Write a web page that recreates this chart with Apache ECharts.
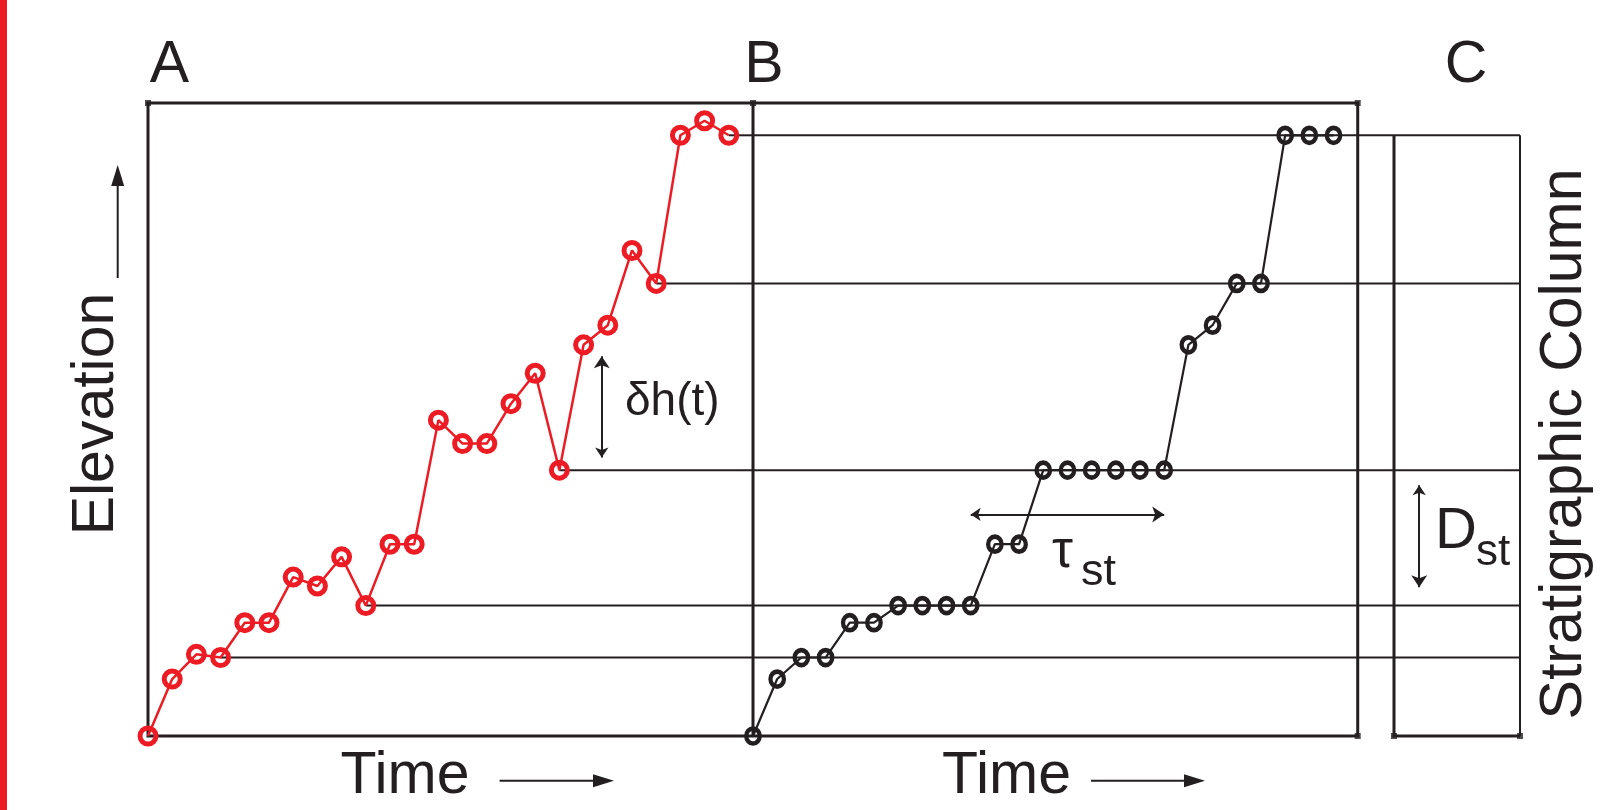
<!DOCTYPE html>
<html>
<head>
<meta charset="utf-8">
<title>Elevation, preserved record and stratigraphic column</title>
<script src="https://cdn.jsdelivr.net/npm/echarts@6.0.0/dist/echarts.min.js"></script>
<style>
  html, body { margin: 0; padding: 0; background: #ffffff; }
  #chart { width: 1602px; height: 810px; }
</style>
</head>
<body>
<div id="chart"></div>
<script>
// time steps, shared by panels A and B
const steps = [0, 1, 2, 3, 4, 5, 6, 7, 8, 9, 10, 11, 12, 13, 14, 15, 16, 17, 18, 19, 20, 21, 22, 23, 24];
// surface elevation at each step (panel A), 0 = base of box, 100 = top of box
const elevation = [0, 9.0, 12.9, 12.4, 17.9, 17.9, 25.1, 23.7, 28.3, 20.6, 30.3, 30.3, 49.9,
  46.2, 46.2, 52.5, 57.3, 42.0, 61.8, 64.9, 76.7, 71.5, 94.9, 97.2, 94.9];
// elevation that is left in the record (panel B)
const preserved = [0, 9.0, 12.4, 12.4, 17.9, 17.9, 20.6, 20.6, 20.6, 20.6, 30.3, 30.3, 42.0,
  42.0, 42.0, 42.0, 42.0, 42.0, 61.8, 64.9, 71.5, 71.5, 94.9, 94.9, 94.9];
// steps where the surface is left for good -> horizons in the column
const horizonSteps = [3, 9, 17, 21, 24];
// double arrows
const dhSpan = [44, 60];       // δh(t), elevation
const tauSpan = [9, 17];       // τst, steps
const dstSpan = [23.5, 39.6];  // Dst, elevation
const panelLabels = ['A', 'B', 'C'];

const RED = '#ed1c24';
const INK = '#231f20';
const FONT = '"Liberation Sans", Arial, sans-serif';

const A_END = 25;     // right side of box A / B (in steps)
const B_END = 26.5;   // grid B runs on until the column
const horizonLevels = horizonSteps.map(s => elevation[s]);
const colTop = horizonLevels[horizonLevels.length - 1];

const xy = (xs, ys) => xs.map((x, i) => [x, ys[i]]);

const chartDom = document.getElementById('chart');
const myChart = echarts.init(chartDom, null, { renderer: 'canvas' });

const bigText = { fontSize: 59, fontFamily: FONT, fill: INK, align: 'center', verticalAlign: 'middle' };

function arrowShape(tip, dir) {
  // dir: 'right' or 'up', filled head 21 long, 13 wide
  if (dir === 'right') {
    return [[tip[0], tip[1]], [tip[0] - 21, tip[1] - 6.5], [tip[0] - 21, tip[1] + 6.5]];
  }
  return [[tip[0], tip[1]], [tip[0] - 6.5, tip[1] + 21], [tip[0] + 6.5, tip[1] + 21]];
}

function frame(idx, coords, width) {
  return {
    type: 'lines',
    coordinateSystem: 'cartesian2d',
    xAxisIndex: idx,
    yAxisIndex: idx,
    polyline: true,
    silent: true,
    clip: false,
    z: 2,
    lineStyle: { color: INK, width: width, opacity: 1 },
    data: coords.map(c => ({ coords: c }))
  };
}

function doubleArrow(idx, coords) {
  return {
    type: 'lines',
    coordinateSystem: 'cartesian2d',
    xAxisIndex: idx,
    yAxisIndex: idx,
    silent: true,
    clip: false,
    z: 3,
    symbol: ['arrow', 'arrow'],
    symbolSize: [10, 12],
    lineStyle: { color: INK, width: 2, opacity: 1 },
    data: [{ coords: coords }]
  };
}

const option = {
  animation: false,
  grid: [
    { left: 148, top: 103, width: 605, height: 633 },
    { left: 753, top: 103, width: 641, height: 633 },
    { left: 1394, top: 103, width: 126, height: 633 }
  ],
  xAxis: [
    { gridIndex: 0, type: 'value', min: 0, max: A_END, show: false },
    { gridIndex: 1, type: 'value', min: 0, max: B_END, show: false },
    { gridIndex: 2, type: 'value', min: 0, max: 1, show: false }
  ],
  yAxis: [
    { gridIndex: 0, type: 'value', min: 0, max: 100, show: false },
    { gridIndex: 1, type: 'value', min: 0, max: 100, show: false },
    { gridIndex: 2, type: 'value', min: 0, max: 100, show: false }
  ],
  graphic: [
    { type: 'rect', shape: { x: 0, y: 0, width: 7, height: 810 }, style: { fill: RED } },
    { type: 'text', x: 169.5, y: 65.5, style: Object.assign({ text: panelLabels[0] }, bigText) },
    { type: 'text', x: 764, y: 65.5, style: Object.assign({ text: panelLabels[1] }, bigText) },
    { type: 'text', x: 1466, y: 65.5, style: Object.assign({ text: panelLabels[2] }, bigText) },
    // axis names
    { type: 'text', x: 405, y: 777, style: Object.assign({ text: 'Time' }, bigText) },
    { type: 'text', x: 1006.5, y: 777, style: Object.assign({ text: 'Time' }, bigText) },
    { type: 'text', x: 96.3, y: 414, rotation: Math.PI / 2, style: Object.assign({ text: 'Elevation' }, bigText) },
    { type: 'text', x: 1564.6, y: 444, rotation: Math.PI / 2, style: Object.assign({ text: 'Stratigraphic Column' }, bigText) },
    // axis arrows
    { type: 'line', shape: { x1: 499.6, y1: 780.7, x2: 596, y2: 780.7 }, style: { stroke: INK, lineWidth: 2 } },
    { type: 'polygon', shape: { points: arrowShape([614, 780.7], 'right') }, style: { fill: INK } },
    { type: 'line', shape: { x1: 1091, y1: 780.7, x2: 1188, y2: 780.7 }, style: { stroke: INK, lineWidth: 2 } },
    { type: 'polygon', shape: { points: arrowShape([1205, 780.7], 'right') }, style: { fill: INK } },
    { type: 'line', shape: { x1: 117.7, y1: 278, x2: 117.7, y2: 183 }, style: { stroke: INK, lineWidth: 2 } },
    { type: 'polygon', shape: { points: arrowShape([117.7, 165], 'up') }, style: { fill: INK } },
    // annotation labels
    { type: 'text', x: 625, y: 402.5, style: { text: 'δh(t)', fontSize: 46, fontFamily: FONT, fill: INK, align: 'left', verticalAlign: 'middle' } },
    { type: 'text', x: 1052, y: 552, style: { text: 'τ', fontSize: 53, fontFamily: FONT, fill: INK, align: 'left', verticalAlign: 'middle' } },
    { type: 'text', x: 1081, y: 572.5, style: { text: 'st', fontSize: 45, fontFamily: FONT, fill: INK, align: 'left', verticalAlign: 'middle' } },
    { type: 'text', x: 1435, y: 532, style: { text: 'D', fontSize: 58, fontFamily: FONT, fill: INK, align: 'left', verticalAlign: 'middle' } },
    { type: 'text', x: 1476, y: 552.5, style: { text: 'st', fontSize: 44, fontFamily: FONT, fill: INK, align: 'left', verticalAlign: 'middle' } }
  ],
  series: [
    // boxes
    frame(0, [[[A_END, 0], [0, 0], [0, 100], [A_END, 100], [A_END, 0]]], 3),
    frame(1, [[[0, 100], [A_END, 100], [A_END, 0], [0, 0]]], 3),
    frame(2, [[[0, colTop], [0, 0], [1, 0]]], 3),
    frame(2, [[[1, 0], [1, colTop]]], 2),
    // horizons carried across to the column
    frame(0, horizonSteps.map((s, k) => [[s, horizonLevels[k]], [A_END, horizonLevels[k]]]), 2),
    frame(1, horizonLevels.map(l => [[0, l], [B_END, l]]), 2),
    frame(2, horizonLevels.map(l => [[0, l], [1, l]]), 2),
    // corner caps
    {
      type: 'scatter', xAxisIndex: 0, yAxisIndex: 0, silent: true, clip: false, z: 2,
      symbol: 'rect', symbolSize: 6, itemStyle: { color: INK },
      data: [[0, 100], [A_END, 100]]
    },
    {
      type: 'scatter', xAxisIndex: 1, yAxisIndex: 1, silent: true, clip: false, z: 2,
      symbol: 'rect', symbolSize: 6, itemStyle: { color: INK },
      data: [[A_END, 100], [A_END, 0]]
    },
    {
      type: 'scatter', xAxisIndex: 2, yAxisIndex: 2, silent: true, clip: false, z: 2,
      symbol: 'rect', symbolSize: 6, itemStyle: { color: INK },
      data: [[0, 0], [1, 0]]
    },
    // annotations
    doubleArrow(0, [[18.75, dhSpan[0]], [18.75, dhSpan[1]]]),
    doubleArrow(1, [[tauSpan[0], 35], [tauSpan[1], 35]]),
    doubleArrow(2, [[0.2, dstSpan[1]], [0.2, dstSpan[0]]]),
    // elevation history
    {
      name: 'Elevation',
      type: 'line',
      xAxisIndex: 0,
      yAxisIndex: 0,
      data: xy(steps, elevation),
      clip: false,
      silent: true,
      z: 5,
      symbol: 'circle',
      symbolSize: 16,
      showAllSymbol: true,
      lineStyle: { color: RED, width: 2.5 },
      itemStyle: { color: 'rgba(0,0,0,0)', borderColor: RED, borderWidth: 5 }
    },
    // preserved record
    {
      name: 'Preserved',
      type: 'line',
      xAxisIndex: 1,
      yAxisIndex: 1,
      data: xy(steps, preserved),
      clip: false,
      silent: true,
      z: 5,
      symbol: 'circle',
      symbolSize: [13.5, 15],
      showAllSymbol: true,
      lineStyle: { color: INK, width: 2.2 },
      itemStyle: { color: 'rgba(0,0,0,0)', borderColor: INK, borderWidth: 4.5 }
    }
  ]
};

myChart.setOption(option);

window.addEventListener('resize', () => {
  myChart.resize();
});
</script>
</body>
</html>
